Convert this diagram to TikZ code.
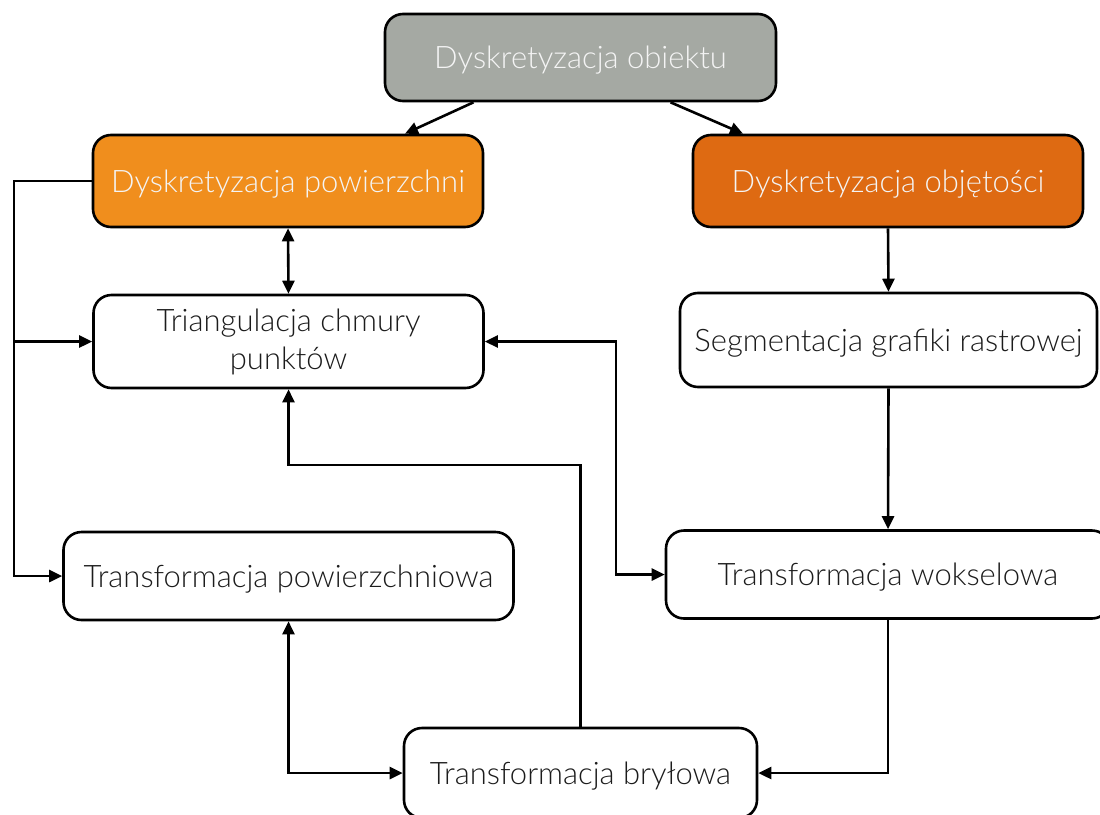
\documentclass[tikz,border=0pt]{standalone}
\usepackage{fontspec}
\setmainfont{Lato Light}
\usetikzlibrary{arrows.meta}
\definecolor{boxgray}{HTML}{A5A9A3}
\definecolor{surforange}{HTML}{F08E1D}
\definecolor{volorange}{HTML}{DE6A12}
\definecolor{inktext}{HTML}{1C1C1C}
\definecolor{paletext}{HTML}{F4F4F4}
\tikzset{
  x=1pt, y=-1pt,
  % the invisible rule evens out the descenders so the capitals sit centred
  box/.style={draw=black, line width=2.6pt, rounded corners=18pt, align=center,
    font=\fontsize{31}{38}\selectfont, text=inktext, fill=white, inner sep=0pt,
    execute at begin node={\vrule width 0pt height 0.92em\relax}},
  colbox/.style={box, text=paletext},
  link/.style={line width=2.6pt, -{Triangle[length=13pt,width=12pt]}},
  link2/.style={line width=2.6pt, {Triangle[length=13pt,width=12pt]}-{Triangle[length=13pt,width=12pt]}},
}
\begin{document}
\begin{tikzpicture}
\useasboundingbox (0,0) rectangle (1100,814);
% boxes
\node[colbox, fill=boxgray, minimum width=391pt, minimum height=87pt] (obj) at (580.5,57.5) {Dyskretyzacja obiektu};
\node[colbox, fill=surforange, minimum width=390pt, minimum height=92pt] (pow) at (288,181) {Dyskretyzacja powierzchni};
\node[colbox, fill=volorange, minimum width=390pt, minimum height=92pt] (vol) at (888,181) {Dyskretyzacja objętości};
\node[box, minimum width=390pt, minimum height=93pt] (tri) at (288.5,341.5) {Triangulacja chmury\\punktów};
\node[box, minimum width=417pt, minimum height=94pt] (seg) at (888.5,340) {Segmentacja grafiki rastrowej};
\node[box, minimum width=450pt, minimum height=88pt] (tpow) at (288.5,576) {Transformacja powierzchniowa};
\node[box, minimum width=444pt, minimum height=88pt] (tvox) at (888,574.5) {Transformacja wokselowa};
\node[box, minimum width=353pt, minimum height=90pt] (tbr) at (580.5,773) {Transformacja bryłowa};
% routing columns and rows
\coordinate (L) at (14,0);
\coordinate (M) at (616,0);
\coordinate (J) at (0,465);
% connectors
\draw[link] ([xshift=-107pt]obj.south) -- ([xshift=117pt]pow.north);
\draw[link] ([xshift=90pt]obj.south) -- ([xshift=-145pt]vol.north);
\draw[link2] (pow.south) -- (tri.north);
\draw[link] (vol.south) -- (seg.north);
\draw[link] (seg.south) -- (tvox.north);
\draw[link] (pow.west) -- (pow.west -| L) -- (tpow.west -| L) -- (tpow.west);
\draw[link] (tri.west -| L) -- (tri.west);
\draw[link2] (tri.east) -- (tri.east -| M) -- (tvox.west -| M) -- (tvox.west);
\draw[link] (tbr.north) -- (tbr.north |- J) -- (tri.south |- J) -- (tri.south);
\draw[link2] (tpow.south) |- (tbr.west);
\draw[link] (tvox.south) |- (tbr.east);
\end{tikzpicture}
\end{document}
